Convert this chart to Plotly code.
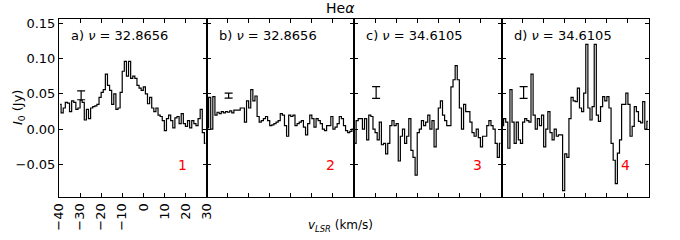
import numpy as np
import plotly.graph_objects as go

# ---- data ----
v_start = -39.5  # first channel centre (km/s), 1 km/s channels

flux_a = [0.035, 0.023, 0.030, 0.038, 0.037, 0.025, 0.040, 0.038, 0.028, 0.030,
          0.041, 0.038, 0.013, 0.028, 0.015, 0.030, 0.032, 0.033, 0.035, 0.045,
          0.052, 0.056, 0.078, 0.062, 0.055, 0.035, 0.050, 0.028, 0.030, 0.052,
          0.082, 0.096, 0.075, 0.096, 0.072, 0.075, 0.072, 0.062, 0.058, 0.055,
          0.060, 0.050, 0.036, 0.045, 0.030, 0.025, 0.030, 0.020, 0.018, 0.012,
          -0.002, 0.015, 0.020, 0.012, 0.002, 0.016, 0.018, 0.008, 0.022, 0.008,
          0.004, 0.012, 0.002, 0.012, 0.008, 0.005, 0.015, 0.028, -0.005, -0.020]

flux_b = [0.002, 0.045, 0.000, 0.046, 0.020, 0.024, 0.022, 0.025, 0.023, 0.025,
          0.024, 0.026, 0.023, 0.027, 0.027, 0.027, 0.030, 0.030, 0.010, 0.040,
          0.030, 0.056, 0.040, 0.047, 0.018, 0.010, 0.012, 0.015, 0.018, 0.012,
          0.005, 0.006, 0.008, 0.010, 0.012, 0.022, 0.020, 0.005, -0.010, 0.020,
          0.018, 0.020, 0.005, 0.008, 0.010, 0.012, 0.003, -0.008, 0.008, 0.020,
          0.015, 0.003, 0.015, 0.012, 0.008, 0.000, -0.002, 0.005, 0.005, 0.018,
          0.000, 0.003, 0.008, 0.018, 0.015, 0.005, -0.002, -0.005, -0.003, 0.000]

flux_c = [-0.020, 0.012, 0.015, 0.015, 0.000, 0.015, -0.015, 0.020, 0.018, 0.000,
          -0.005, -0.015, 0.010, -0.022, -0.020, -0.035, -0.020, 0.005, 0.012, 0.005,
          0.008, -0.045, -0.010, 0.000, -0.020, -0.010, 0.015, -0.030, -0.040, -0.065,
          -0.005, 0.000, 0.012, 0.005, 0.010, 0.020, 0.000, 0.012, -0.025, 0.000,
          0.030, 0.040, 0.020, 0.012, 0.005, 0.005, 0.060, 0.070, 0.090, 0.070,
          0.030, 0.000, 0.035, 0.025, 0.025, 0.010, -0.005, -0.010, 0.000, -0.012,
          -0.025, -0.010, -0.010, 0.005, 0.012, 0.005, 0.000, -0.020, -0.040, -0.020]

flux_d = [0.005, 0.015, 0.010, -0.027, 0.056, 0.010, -0.020, 0.010, -0.015, -0.020,
          0.010, 0.015, 0.012, 0.010, 0.078, 0.020, 0.000, 0.015, 0.005, 0.020,
          -0.025, 0.000, 0.025, -0.005, -0.015, 0.000, -0.010, -0.008, -0.008, -0.087,
          -0.035, -0.040, 0.015, 0.045, 0.040, 0.039, 0.058, 0.030, 0.025, 0.051,
          0.120, 0.030, 0.013, 0.032, 0.120, 0.020, 0.011, 0.032, 0.046, 0.040,
          0.046, 0.030, -0.020, -0.044, -0.077, -0.034, -0.015, 0.035, 0.035, 0.051,
          0.035, -0.010, 0.004, 0.032, 0.025, 0.011, 0.009, 0.039, 0.000, 0.011]

panel_labels = ["a) <i>ν</i> = 32.8656", "b) <i>ν</i> = 32.8656",
                "c) <i>ν</i> = 34.6105", "d) <i>ν</i> = 34.6105"]
panel_numbers = ["1", "2", "3", "4"]
err_x = [-29.5, -29.5, -29.5, -29.5]
err_y = [0.048, 0.0475, 0.052, 0.052]
err_half = [0.0063, 0.0035, 0.0083, 0.0083]

x_ticks = [-40, -30, -20, -10, 0, 10, 20, 30]
x_ticktext = ["−40", "−30", "−20", "−10", "0", "10", "20", "30"]
y_ticks = [-0.05, 0.0, 0.05, 0.10, 0.15]
y_ticktext = ["−0.05", "0.00", "0.05", "0.10", "0.15"]

# ---- figure ----
series = [flux_a, flux_b, flux_c, flux_d]
fig = go.Figure()
font = "DejaVu Sans"
layout = dict(
    width=680, height=240,
    margin=dict(l=59, r=31, t=19, b=43, autoexpand=False),
    paper_bgcolor="white", plot_bgcolor="white",
    showlegend=False,
    font=dict(family=font, size=12, color="black"),
)
annotations = []
for i, ys in enumerate(series):
    n = i + 1
    xs = v_start + np.arange(len(ys))
    xa = "x" if n == 1 else f"x{n}"
    ya = "y" if n == 1 else f"y{n}"
    fig.add_trace(go.Scatter(x=xs, y=ys, mode="lines", line_shape="hvh",
                             line=dict(color="black", width=1.2),
                             xaxis=xa, yaxis=ya, hoverinfo="skip"))
    fig.add_trace(go.Scatter(x=[err_x[i]], y=[err_y[i]], mode="markers",
                             marker=dict(size=1, color="rgba(0,0,0,0)"),
                             error_y=dict(type="data", array=[err_half[i]], visible=True,
                                          color="black", thickness=1.2, width=4),
                             xaxis=xa, yaxis=ya, hoverinfo="skip"))
    d0 = i * 0.25
    layout["xaxis" if n == 1 else f"xaxis{n}"] = dict(
        domain=[d0, d0 + 0.25], anchor=ya, range=[-40, 30], automargin=False,
        tickvals=x_ticks, ticktext=x_ticktext, showticklabels=(n == 1),
        tickangle=-90, ticks="inside", ticklen=4, tickwidth=1, tickcolor="black",
        showline=True, linecolor="black", linewidth=1, mirror="ticks",
        showgrid=False, zeroline=False,
        tickfont=dict(size=13, family=font, color="black"))
    layout["yaxis" if n == 1 else f"yaxis{n}"] = dict(
        domain=[0, 1], anchor=xa, range=[-0.096, 0.156], automargin=False,
        tickvals=y_ticks, ticktext=y_ticktext, showticklabels=(n == 1),
        ticks="inside", ticklen=4, tickwidth=1, tickcolor="black",
        showline=True, linecolor="black", linewidth=1, mirror="ticks",
        showgrid=False, zeroline=False,
        tickfont=dict(size=13, family=font, color="black"))
    annotations.append(dict(text=panel_labels[i], xref=f"{xa} domain", yref=f"{ya} domain",
                            x=0.07, y=0.907, xanchor="left", yanchor="middle",
                            showarrow=False, font=dict(size=13, family=font)))
    annotations.append(dict(text=panel_numbers[i], xref=xa, yref=ya, x=18.8, y=-0.05,
                            xanchor="center", yanchor="middle", showarrow=False,
                            font=dict(size=14, family=font, color="red")))

annotations.append(dict(text="<i>I</i><sub>0</sub> (Jy)", xref="paper", yref="paper",
                        x=0, xshift=-41, y=0.5, textangle=-90,
                        xanchor="center", yanchor="middle", showarrow=False,
                        font=dict(size=13, family=font)))
annotations.append(dict(text="He<i>α</i>", xref="paper", yref="paper",
                        x=(340 - 59) / 590, y=1, yshift=11, xanchor="center", yanchor="middle",
                        showarrow=False, font=dict(size=14, family=font)))
annotations.append(dict(text="<i>v</i><sub><i>LSR</i></sub> (km/s)", xref="paper", yref="paper",
                        x=(340 - 59) / 590, y=0, yshift=-29, xanchor="center", yanchor="middle",
                        showarrow=False, font=dict(size=12, family=font)))
layout["annotations"] = annotations
fig.update_layout(**layout)
fig.write_html("out.html", config={"displayModeBar": False, "staticPlot": True},
               post_script="document.body.style.margin='0';document.body.style.padding='0';")
